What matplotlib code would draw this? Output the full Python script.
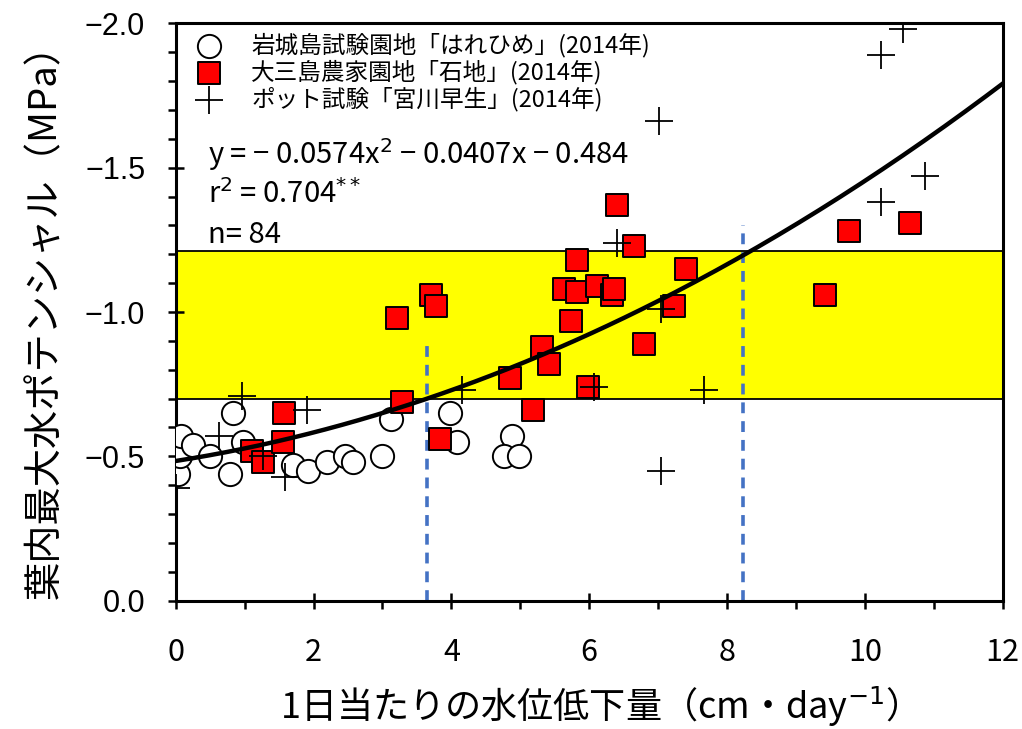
import numpy as np
import matplotlib
matplotlib.use("Agg")
import matplotlib.pyplot as plt
from matplotlib.ticker import MultipleLocator, FuncFormatter

plt.rcParams['font.family'] = ['Noto Sans CJK JP', 'DejaVu Sans']

# 岩城島試験園地「はれひめ」
iwagi_x = [0.03, 0.06, 0.07, 0.25, 0.49, 0.83, 0.78, 0.97, 1.70, 1.92,
           2.19, 2.45, 2.57, 2.99, 3.13, 3.98, 4.08, 4.88, 4.77, 4.98]
iwagi_y = [-0.44, -0.50, -0.57, -0.54, -0.50, -0.65, -0.44, -0.55, -0.47, -0.45,
           -0.48, -0.50, -0.48, -0.50, -0.63, -0.65, -0.55, -0.57, -0.50, -0.50]

# 大三島農家園地「石地」
omi_x = [1.10, 1.26, 1.55, 1.57, 3.21, 3.29, 3.71, 3.77, 3.84, 4.85,
         5.19, 5.31, 5.41, 5.64, 5.73, 5.82, 5.83, 5.98, 6.12, 6.33,
         6.36, 6.41, 6.65, 6.79, 7.23, 7.41, 9.42, 9.77, 10.65]
omi_y = [-0.52, -0.48, -0.55, -0.65, -0.98, -0.69, -1.06, -1.02, -0.56, -0.77,
         -0.66, -0.88, -0.82, -1.08, -0.97, -1.07, -1.18, -0.74, -1.09, -1.06,
         -1.08, -1.37, -1.23, -0.89, -1.02, -1.15, -1.06, -1.28, -1.31]

# ポット試験「宮川早生」
pot_x = [0.0, 0.62, 0.96, 1.26, 1.58, 1.90, 4.16, 6.07, 6.40, 7.02,
         7.04, 7.04, 7.66, 10.23, 10.23, 10.55, 10.87]
pot_y = [-0.39, -0.57, -0.71, -0.50, -0.43, -0.66, -0.73, -0.74, -1.24, -1.66,
         -1.01, -0.45, -0.73, -1.89, -1.38, -1.98, -1.47]

# fitted curve as drawn (a + b*x + c*x^2)
fit_coef = [-0.484, -0.0375, -0.00595]

band = (-0.70, -1.21)
guide_x = [3.64, 8.23]
guide_top = [-0.89, -1.30]

fig = plt.figure(figsize=(10.22, 7.29), dpi=100)
ax = fig.add_axes([0.172, 0.176, 0.809, 0.792])

ax.axhspan(band[0], band[1], facecolor='#FFFF00', edgecolor='none', zorder=0)
for yb in band:
    ax.axhline(yb, color='black', lw=1.3, zorder=1)

for gx, gt in zip(guide_x, guide_top):
    ax.plot([gx, gx], [0, gt], color='#4472C4', lw=2.6, ls=(0, (3, 2.2)), zorder=2)

ax.scatter(iwagi_x, iwagi_y, s=280, marker='o', facecolor='white',
           edgecolor='black', linewidth=1.4, zorder=3,
           label='岩城島試験園地「はれひめ」(2014年)')
ax.scatter(omi_x, omi_y, s=230, marker='s', facecolor='#FF0000',
           edgecolor='black', linewidth=1.4, zorder=4,
           label='大三島農家園地「石地」(2014年)')
ax.scatter(pot_x, pot_y, s=380, marker='+', color='black',
           linewidth=1.3, zorder=5,
           label='ポット試験「宮川早生」(2014年)')

xs = np.linspace(0, 12, 200)
ys = fit_coef[0] + fit_coef[1] * xs + fit_coef[2] * xs ** 2
ax.plot(xs, ys, color='black', lw=3.2, zorder=6)

ax.set_xlim(0, 12)
ax.set_ylim(0, -2.0)
ax.xaxis.set_major_locator(MultipleLocator(2))
ax.xaxis.set_minor_locator(MultipleLocator(1))
ax.yaxis.set_major_locator(MultipleLocator(0.5))
ax.yaxis.set_minor_locator(MultipleLocator(0.1))
ax.yaxis.set_major_formatter(FuncFormatter(lambda v, p: f'{v:.1f}'.replace('-', '−')))
ax.tick_params(which='major', direction='inout', length=12, width=1.8)
ax.tick_params(which='minor', direction='out', length=6, width=1.8)
ax.tick_params(axis='x', which='major', labelsize=22, pad=20)
ax.tick_params(axis='y', which='major', labelsize=22, pad=16)
for lab in ax.get_yticklabels():
    lab.set_family(['Liberation Sans', 'DejaVu Sans'])
for sp in ax.spines.values():
    sp.set_linewidth(2.2)

ax.set_xlabel('1日当たりの水位低下量（cm・day$^{-1}$）', fontsize=26, labelpad=12)
ax.set_ylabel('葉内最大水ポテンシャル（MPa）', fontsize=27.5, labelpad=14)

ax.legend(loc='upper left', frameon=False, fontsize=17, handletextpad=0.8,
          labelspacing=0.1, borderaxespad=0.1, borderpad=0.3)

eq_kw = dict(transform=ax.transAxes, fontsize=21, ha='left', va='center')
ax.text(0.039, 0.772, 'y = − 0.0574x$^{2}$ − 0.0407x − 0.484', **eq_kw)
ax.text(0.039, 0.702, 'r$^{2}$ = 0.704$^{**}$', **eq_kw)
ax.text(0.039, 0.633, 'n= 84', **eq_kw)

fig.savefig('out.png', dpi=100)
